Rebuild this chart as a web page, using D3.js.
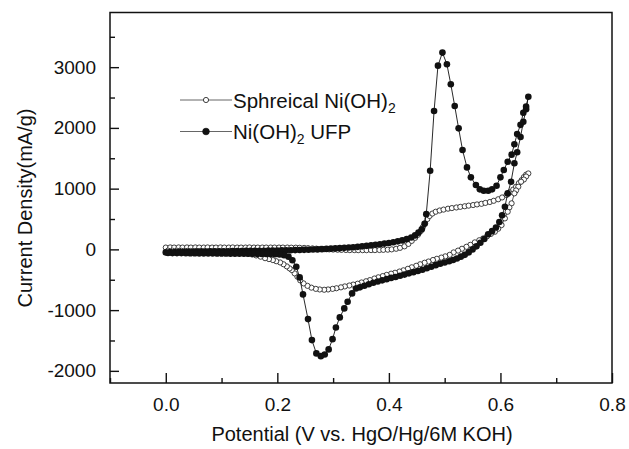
<!DOCTYPE html>
<html>
<head>
<meta charset="utf-8">
<script src="https://cdn.jsdelivr.net/npm/d3@7"></script>
<style>
    body { margin: 0; background: #fff; }
    text { font-family: Arial, "Liberation Sans", sans-serif; fill: #111; }
</style>
</head>
<body>
<div id="chart"></div>
<script>
// axis ticks
const xMajor = [0.0, 0.2, 0.4, 0.6, 0.8];
const xMinor = [-0.1, 0.1, 0.3, 0.5, 0.7];
const yMajor = [-2000, -1000, 0, 1000, 2000, 3000];
const yMinor = [-1500, -500, 500, 1500, 2500, 3500];

const seriesNames = ['Sphreical Ni(OH)', 'Ni(OH)'];

// Ni(OH)2 UFP, anodic sweep 0 -> 0.65 V  [V, mA/g]
const ufpForward = [
    [0.000, -50], [0.008, -45], [0.016, -42], [0.024, -40], [0.032, -40], [0.040, -38],
    [0.048, -38], [0.056, -36], [0.064, -35], [0.072, -35], [0.080, -33], [0.088, -32],
    [0.096, -32], [0.104, -30], [0.112, -30], [0.120, -28], [0.128, -28], [0.136, -26],
    [0.144, -25], [0.152, -25], [0.160, -24], [0.168, -22], [0.176, -22], [0.184, -20],
    [0.192, -20], [0.200, -18], [0.208, -16], [0.216, -15], [0.224, -14], [0.232, -12],
    [0.240, -10], [0.248, -8], [0.256, -5], [0.264, -2], [0.272, 0], [0.280, 4],
    [0.288, 8], [0.296, 12], [0.304, 16], [0.312, 20], [0.320, 25], [0.328, 30],
    [0.336, 36], [0.344, 42], [0.352, 50], [0.360, 58], [0.368, 66], [0.376, 75],
    [0.384, 85], [0.392, 95], [0.400, 105], [0.408, 118], [0.416, 132], [0.424, 148],
    [0.432, 168], [0.440, 195], [0.447, 230], [0.453, 275], [0.459, 330], [0.464, 420],
    [0.467, 580], [0.474, 1295], [0.481, 2278], [0.488, 3025], [0.496, 3240], [0.504, 3048],
    [0.511, 2718], [0.518, 2361], [0.525, 1993], [0.532, 1636], [0.540, 1350], [0.547, 1186],
    [0.556, 1059], [0.563, 988], [0.570, 965], [0.578, 965], [0.585, 988], [0.593, 1048],
    [0.600, 1186], [0.606, 1306], [0.613, 1443], [0.620, 1560], [0.625, 1730], [0.630, 1900],
    [0.636, 2050], [0.641, 2250], [0.646, 2350], [0.650, 2514]
];

// Ni(OH)2 UFP, cathodic sweep 0.65 -> 0 V
const ufpReverse = [
    [0.646, 2306], [0.641, 2100], [0.636, 1850], [0.630, 1600], [0.625, 1417], [0.619, 1114],
    [0.613, 922], [0.608, 702], [0.603, 560], [0.598, 450], [0.592, 360], [0.585, 300],
    [0.578, 250], [0.571, 170], [0.564, 110], [0.557, 50], [0.550, 0], [0.543, -50],
    [0.536, -90], [0.529, -120], [0.522, -150], [0.515, -175], [0.508, -195], [0.500, -215],
    [0.492, -235], [0.484, -260], [0.476, -285], [0.468, -310], [0.460, -335], [0.452, -355],
    [0.444, -375], [0.436, -395], [0.428, -415], [0.420, -435], [0.412, -455], [0.404, -470],
    [0.396, -490], [0.388, -510], [0.380, -530], [0.372, -550], [0.364, -575], [0.356, -600],
    [0.348, -625], [0.341, -645], [0.334, -725], [0.326, -863], [0.320, -972], [0.312, -1120],
    [0.305, -1285], [0.299, -1478], [0.292, -1647], [0.285, -1730], [0.278, -1758], [0.270, -1713],
    [0.262, -1494], [0.255, -1148], [0.246, -741], [0.240, -461], [0.234, -287], [0.227, -180],
    [0.220, -120], [0.212, -95], [0.204, -85], [0.196, -80], [0.188, -78], [0.180, -76],
    [0.172, -75], [0.164, -74], [0.156, -73], [0.148, -72], [0.140, -72], [0.132, -71],
    [0.124, -70], [0.116, -70], [0.108, -69], [0.100, -68], [0.092, -68], [0.084, -67],
    [0.076, -66], [0.068, -66], [0.060, -65], [0.052, -64], [0.044, -64], [0.036, -63],
    [0.028, -62], [0.020, -62], [0.012, -61], [0.004, -60]
];

// Spherical Ni(OH)2, anodic sweep
const sphForward = [
    [0.000, 30], [0.008, 32], [0.015, 30], [0.023, 32], [0.030, 30], [0.038, 32],
    [0.045, 30], [0.053, 32], [0.060, 30], [0.068, 30], [0.075, 32], [0.083, 30],
    [0.090, 30], [0.098, 32], [0.105, 30], [0.113, 30], [0.120, 32], [0.128, 30],
    [0.135, 30], [0.143, 30], [0.150, 32], [0.158, 30], [0.165, 30], [0.173, 30],
    [0.180, 30], [0.188, 30], [0.195, 30], [0.203, 30], [0.210, 30], [0.218, 30],
    [0.225, 28], [0.233, 28], [0.240, 26], [0.248, 24], [0.255, 20], [0.263, 16],
    [0.270, 12], [0.278, 8], [0.285, 4], [0.293, 0], [0.300, -3], [0.308, -6],
    [0.315, -8], [0.323, -10], [0.330, -12], [0.338, -12], [0.345, -13], [0.353, -13],
    [0.360, -13], [0.368, -12], [0.375, -12], [0.383, -10], [0.390, -8], [0.398, -5],
    [0.405, 0], [0.413, 10], [0.420, 25], [0.428, 50], [0.435, 90], [0.441, 140],
    [0.447, 190], [0.452, 240], [0.457, 300], [0.461, 370], [0.465, 430], [0.469, 500],
    [0.473, 550], [0.478, 590], [0.484, 620], [0.491, 640], [0.498, 655], [0.506, 670],
    [0.513, 680], [0.521, 690], [0.528, 700], [0.536, 710], [0.543, 720], [0.551, 730],
    [0.558, 740], [0.566, 750], [0.573, 765], [0.581, 780], [0.588, 800], [0.596, 825],
    [0.603, 855], [0.611, 895], [0.617, 940], [0.623, 985], [0.628, 1031], [0.633, 1090],
    [0.638, 1140], [0.642, 1190], [0.646, 1230], [0.650, 1250]
];

// Spherical Ni(OH)2, cathodic sweep
const sphReverse = [
    [0.646, 1200], [0.642, 1150], [0.637, 1114], [0.632, 1031], [0.628, 970], [0.625, 922],
    [0.620, 758], [0.616, 690], [0.613, 620], [0.608, 510], [0.602, 400], [0.596, 340],
    [0.590, 290], [0.583, 255], [0.576, 215], [0.569, 180], [0.562, 150], [0.554, 115],
    [0.546, 75], [0.539, 43], [0.531, 10], [0.524, -20], [0.516, -50], [0.509, -90],
    [0.501, -115], [0.494, -135], [0.486, -155], [0.479, -175], [0.471, -200], [0.464, -220],
    [0.456, -245], [0.449, -270], [0.441, -295], [0.434, -320], [0.426, -345], [0.419, -365],
    [0.411, -385], [0.404, -400], [0.396, -420], [0.389, -440], [0.381, -460], [0.374, -480],
    [0.366, -506], [0.359, -525], [0.351, -545], [0.344, -565], [0.336, -580], [0.329, -595],
    [0.321, -610], [0.314, -625], [0.306, -640], [0.299, -650], [0.291, -660], [0.284, -665],
    [0.276, -660], [0.269, -650], [0.261, -630], [0.254, -600], [0.247, -560], [0.241, -510],
    [0.236, -450], [0.231, -395], [0.226, -340], [0.222, -313], [0.217, -280], [0.211, -245],
    [0.205, -215], [0.198, -195], [0.192, -176], [0.185, -160], [0.178, -145], [0.170, -120],
    [0.162, -100], [0.155, -85], [0.147, -75], [0.140, -65], [0.132, -58], [0.124, -52],
    [0.116, -48], [0.108, -44], [0.100, -40], [0.092, -37], [0.084, -34], [0.076, -32],
    [0.068, -30], [0.060, -28], [0.052, -27], [0.044, -26], [0.036, -25], [0.028, -24],
    [0.020, -22], [0.012, -21], [0.004, -20]
];

const width = 629;
const height = 449;
const box = {left: 110, right: 612, top: 12.5, bottom: 383};

const svg = d3.select('#chart')
    .append('svg')
    .attr('width', width)
    .attr('height', height);

const x = d3.scaleLinear().domain([-0.1, 0.8]).range([box.left, box.right]);
const y = d3.scaleLinear().domain([-2200, 3900]).range([box.bottom, box.top]);

const line = d3.line()
    .x((d) => x(d[0]))
    .y((d) => y(d[1]));

// axes, ticks pointing inwards; plain hyphen for negatives like the original
const xAxisMajor = d3.axisBottom(x).tickValues(xMajor).tickSize(-10).tickPadding(15)
    .tickFormat((d) => d.toFixed(1));
const xAxisMinor = d3.axisBottom(x).tickValues(xMinor).tickSize(-5).tickFormat('');
const yAxisMajor = d3.axisLeft(y).tickValues(yMajor).tickSize(-9).tickPadding(14)
    .tickFormat((d) => String(d));
const yAxisMinor = d3.axisLeft(y).tickValues(yMinor).tickSize(-5).tickFormat('');

[xAxisMajor, xAxisMinor].forEach((ax) => {
    svg.append('g')
        .attr('transform', `translate(0,${box.bottom})`)
        .call(ax);
});
[yAxisMajor, yAxisMinor].forEach((ax) => {
    svg.append('g')
        .attr('transform', `translate(${box.left},0)`)
        .call(ax);
});
svg.selectAll('.domain').remove();
svg.selectAll('.tick line').attr('stroke', '#111').attr('stroke-width', 1.4);
svg.selectAll('.tick text')
    .attr('font-size', 19)
    .attr('font-family', 'Arial, "Liberation Sans", sans-serif')
    .attr('fill', '#111');

svg.append('rect')
    .attr('x', box.left)
    .attr('y', box.top)
    .attr('width', box.right - box.left)
    .attr('height', box.bottom - box.top)
    .attr('fill', 'none')
    .attr('stroke', '#111')
    .attr('stroke-width', 1.5);

// spherical (hollow)
const sph = sphForward.concat(sphReverse);
svg.append('path')
    .attr('d', line(sph))
    .attr('fill', 'none')
    .attr('stroke', '#333')
    .attr('stroke-width', 0.8);
svg.append('g')
    .selectAll('circle')
    .data(sph)
    .join('circle')
    .attr('cx', (d) => x(d[0]))
    .attr('cy', (d) => y(d[1]))
    .attr('r', 2.6)
    .attr('fill', '#fff')
    .attr('stroke', '#111')
    .attr('stroke-width', 0.8);

// UFP (filled)
const ufp = ufpForward.concat(ufpReverse);
svg.append('path')
    .attr('d', line(ufp))
    .attr('fill', 'none')
    .attr('stroke', '#111')
    .attr('stroke-width', 0.9);
svg.append('g')
    .selectAll('circle')
    .data(ufp)
    .join('circle')
    .attr('cx', (d) => x(d[0]))
    .attr('cy', (d) => y(d[1]))
    .attr('r', 3.3)
    .attr('fill', '#111');

// legend
const legend = svg.append('g');
[100, 131.5].forEach((ly, i) => {
    legend.append('line')
        .attr('x1', 180).attr('x2', 232)
        .attr('y1', ly).attr('y2', ly)
        .attr('stroke', '#555')
        .attr('stroke-width', 0.9);
    legend.append('circle')
        .attr('cx', 206).attr('cy', ly)
        .attr('r', i === 0 ? 2.6 : 3.3)
        .attr('fill', i === 0 ? '#fff' : '#111')
        .attr('stroke', '#111')
        .attr('stroke-width', 0.8);
    const t = legend.append('text')
        .attr('x', 233)
        .attr('y', ly + 7.5)
        .attr('font-size', 20.5)
        .text(seriesNames[i]);
    t.append('tspan')
        .attr('dy', 5)
        .attr('font-size', 14)
        .text('2');
    if (i === 1) {
        t.append('tspan')
            .attr('dy', -5)
            .text(' UFP');
    }
});

// axis titles
svg.append('text')
    .attr('x', 362)
    .attr('y', 441)
    .attr('text-anchor', 'middle')
    .attr('font-size', 20)
    .text('Potential (V vs. HgO/Hg/6M KOH)');

svg.append('text')
    .attr('transform', 'translate(32,208) rotate(-90)')
    .attr('text-anchor', 'middle')
    .attr('font-size', 20)
    .text('Current Density(mA/g)');
</script>
</body>
</html>
